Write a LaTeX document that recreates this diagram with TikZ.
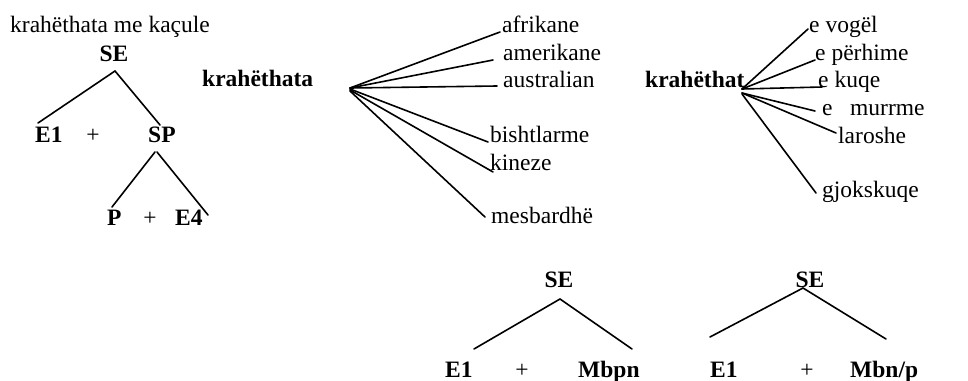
\documentclass[tikz,border=0pt]{standalone}
\usepackage{fontspec}
\setmainfont{Liberation Serif}
\begin{document}
\begin{tikzpicture}[x=1pt,y=-1pt,
  word/.style={anchor=base west,inner sep=0pt,font=\fontsize{23.5}{28}\selectfont},
  cat/.style={word,font=\fontsize{23.5}{28}\selectfont\bfseries},
  branch/.style={line width=1.6pt,line cap=round}]
\useasboundingbox (0,0) rectangle (968,380);

% ---- tree: krahethata me kacule ----
\node[word] (title) at (10,32) {krahëthata me kaçule};
\node[cat,anchor=base] (se1) at (114,61) {SE};
\node[cat] (e1a) at (35,142) {E1};
\node[word,anchor=base] (plA) at (93,142) {+};
\node[cat] (sp) at (148,142) {SP};
\node[cat] (p) at (107,225) {P};
\node[word,anchor=base] (plB) at (150,225) {+};
\node[cat] (e4) at (175,225) {E4};
\coordinate (se1t) at (115,71);
\coordinate (e1at) at (38,123);
\coordinate (spt) at (160,125);
\coordinate (spb) at (155,152);
\coordinate (pt) at (112,207);
\coordinate (e4t) at (208,215);
\draw[branch] (se1t) -- (e1at);
\draw[branch] (se1t) -- (spt);
\draw[branch] (spb) -- (pt);
\draw[branch] ([xshift=2pt]spb) -- (e4t);

% ---- fan: krahethata ----
\node[cat] (kta) at (202,86) {krahëthata};
\coordinate (fa) at (350,88);
\node[word] (afr) at (502,32) {afrikane};
\node[word] (ame) at (503,60) {amerikane};
\node[word] (aus) at (503,87) {australian};
\node[word] (bis) at (490,142) {bishtlarme};
\node[word] (kin) at (490,170) {kineze};
\node[word] (mes) at (491,223) {mesbardhë};
\coordinate (afrE) at (500,32);
\coordinate (ameE) at (493,60);
\coordinate (ausE) at (497,86);
\coordinate (bisE) at (488,142);
\coordinate (kinE) at (493,172);
\coordinate (mesE) at (485,217);
\draw[branch] (fa) -- (afrE);
\draw[branch] (fa) -- (ameE);
\draw[branch] (fa) -- (ausE);
\draw[branch] ([yshift=-1pt]fa) -- (bisE);
\draw[branch] ([yshift=-2pt]fa) -- (kinE);
\draw[branch] ([yshift=-3pt]fa) -- (mesE);

% ---- fan: krahethat ----
\node[cat] (kt) at (645,87) {krahëthat};
\coordinate (fb) at (742,89);
\node[word] (vog) at (809,32) {e vogël};
\node[word] (per) at (815,60) {e përhime};
\node[word] (kuq) at (818,87) {e kuqe};
\node[word] (mue) at (822,115) {e};
\node[word] (mur) at (850,115) {murrme};
\node[word] (lar) at (838,143) {laroshe};
\node[word] (gjo) at (822,197) {gjokskuqe};
\coordinate (vogE) at (808,29);
\coordinate (perE) at (815,60);
\coordinate (kuqE) at (822,87);
\coordinate (murE) at (815,111);
\coordinate (larE) at (836,133);
\coordinate (gjoE) at (816,193);
\draw[branch] (fb) -- (vogE);
\draw[branch] (fb) -- (perE);
\draw[branch] (fb) -- (kuqE);
\draw[branch] ([yshift=-4pt]fb) -- (murE);
\draw[branch] ([yshift=-4pt]fb) -- (larE);
\draw[branch] ([yshift=-5pt]fb) -- (gjoE);

% ---- tree: SE -> E1 + Mbpn ----
\node[cat,anchor=base] (se2) at (559,287) {SE};
\node[cat] (e1b) at (445,377) {E1};
\node[word,anchor=base] (plC) at (522,377) {+};
\node[cat] (mbpn) at (578,377) {Mbpn};
\coordinate (se2t) at (560,299);
\coordinate (e1bt) at (474,349);
\coordinate (mbpnt) at (632,349);
\draw[branch] (se2t) -- (e1bt);
\draw[branch] (se2t) -- (mbpnt);

% ---- tree: SE -> E1 + Mbn/p ----
\node[cat,anchor=base] (se3) at (810,287) {SE};
\node[cat] (e1c) at (710,377) {E1};
\node[word,anchor=base] (plD) at (807,377) {+};
\node[cat] (mbnp) at (850,377) {Mbn/p};
\coordinate (se3t) at (803,288);
\coordinate (e1ct) at (710,337);
\coordinate (mbnpt) at (886,339);
\draw[branch] (se3t) -- (e1ct);
\draw[branch] (se3t) -- (mbnpt);
\end{tikzpicture}
\end{document}
